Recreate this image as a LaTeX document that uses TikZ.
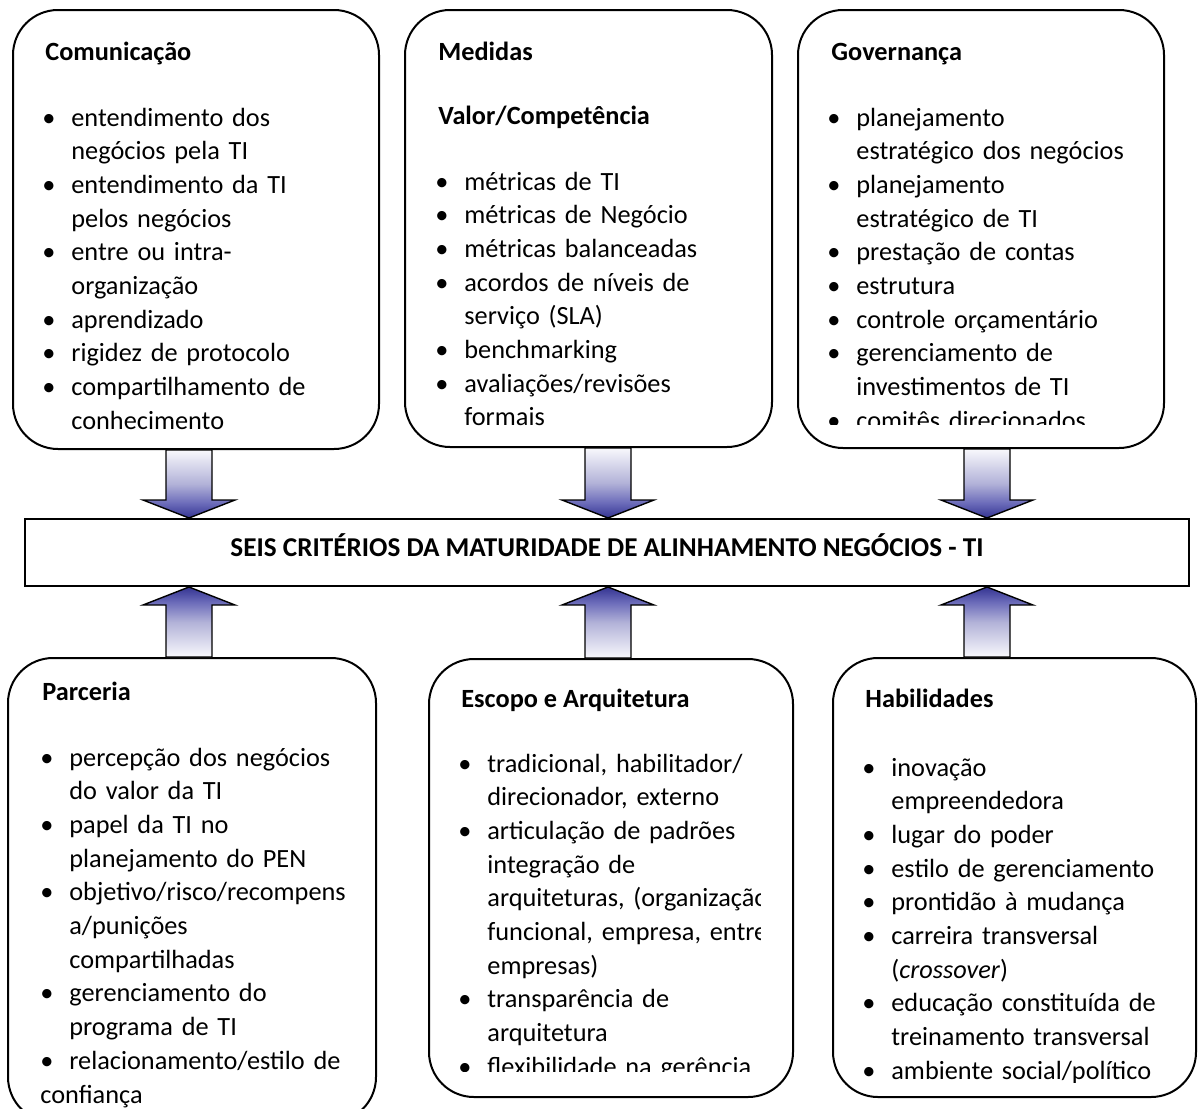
\documentclass[tikz,border=0pt]{standalone}
\usepackage{fontspec}
\setmainfont{Carlito}
\usetikzlibrary{calc,fit}

\definecolor{ardark}{RGB}{52,52,146}
\definecolor{armid}{RGB}{108,108,186}
\definecolor{arsoft}{RGB}{178,178,216}
\definecolor{arpale}{RGB}{248,248,252}
% shading of the fat arrows (path box = 25bp..75bp)
\pgfdeclareverticalshading{shaftdown}{100bp}{color(0bp)=(ardark); color(25bp)=(ardark);
  color(36bp)=(armid); color(50bp)=(arsoft); color(75bp)=(arpale); color(100bp)=(arpale)}
\pgfdeclareverticalshading{shaftup}{100bp}{color(0bp)=(arpale); color(25bp)=(arpale);
  color(50bp)=(arsoft); color(64bp)=(armid); color(75bp)=(ardark); color(100bp)=(ardark)}

\newcommand{\bodyfont}{\fontsize{13.15pt}{16.85pt}\selectfont}
\newcommand{\bul}[1]{{\noindent\hangindent=14.5pt\hangafter=1\makebox[14.5pt][l]{\textbullet}#1\par}}

\tikzset{
  card/.style={draw, line width=1pt, rounded corners=22.5pt, inner sep=0pt},
  barbox/.style={draw, line width=1pt, inner sep=0pt, font=\fontsize{13.6pt}{16.85pt}\selectfont\bfseries},
  head/.style={anchor=base west, inner sep=0pt, font=\bodyfont\bfseries},
  items/.style={anchor=base west, inner sep=0pt, text width=190pt, font=\bodyfont},
  fatarrow/.style={line width=0.7pt, line join=miter}
}

% fat arrow from node #1 down to node #2 along x of coordinate #3
\newcommand{\arrowdown}[3]{%
  \coordinate (s) at (#1.south -| #3);
  \coordinate (t) at (#2.north -| #3);
  \draw[fatarrow, shade, shading=shaftdown] ($(s)+(-23,0)$) -- ($(t)+(-23,-18)$) -- ($(t)+(-46,-18)$)
    -- (t) -- ($(t)+(46,-18)$) -- ($(t)+(23,-18)$) -- ($(s)+(23,0)$) -- cycle;}
% fat arrow from node #1 up to node #2 along x of coordinate #3
\newcommand{\arrowup}[3]{%
  \coordinate (s) at (#1.north -| #3);
  \coordinate (t) at (#2.south -| #3);
  \draw[fatarrow, shade, shading=shaftup] ($(s)+(-23,0)$) -- ($(t)+(-23,18)$) -- ($(t)+(-46,18)$)
    -- (t) -- ($(t)+(46,18)$) -- ($(t)+(23,18)$) -- ($(s)+(23,0)$) -- cycle;}

\begin{document}
\begin{tikzpicture}[x=0.5pt,y=-0.5pt]
  \path[use as bounding box, clip] (0,0) rectangle (1198,1108);

  % boxes
  \node[card, fit={(13,10) (379,449)}] (comm) {};
  \node[card, fit={(405,10) (772,447)}] (meas) {};
  \node[card, fit={(798,10) (1164,448)}] (gov) {};
  \node[barbox, fit={(25,519) (1189,586)}] (bar)
    {\raisebox{-4.3pt}{SEIS CRITÉRIOS DA MATURIDADE DE ALINHAMENTO NEGÓCIOS - TI}};
  \node[card, fit={(8,658) (376,1122)}] (part) {};
  \node[card, fit={(429,659) (793,1097)}] (scope) {};
  \node[card, fit={(833,658) (1196,1097)}] (skill) {};

  % arrows
  \coordinate (xl) at (189,0);
  \coordinate (xm) at (608,0);
  \coordinate (xr) at (987,0);
  \arrowdown{comm}{bar}{xl}
  \arrowdown{meas}{bar}{xm}
  \arrowdown{gov}{bar}{xr}
  \arrowup{part}{bar}{xl}
  \arrowup{scope}{bar}{xm}
  \arrowup{skill}{bar}{xr}

  % texts, top row
  \node[head] (commt) at (45,60) {Comunicação};
  \node[items] (comml) at (42,126) {%
    \bul{entendimento dos\newline negócios pela TI}
    \bul{entendimento da TI\newline pelos negócios}
    \bul{entre ou intra-\newline organização}
    \bul{aprendizado}
    \bul{rigidez de protocolo}
    \bul{compartilhamento de\newline conhecimento}};

  \node[head] (meast) at (438,60) {Medidas};
  \node[head] (measv) at (438,124) {Valor/Competência};
  \node[items] (measl) at (435,190) {%
    \bul{métricas de TI}
    \bul{métricas de Negócio}
    \bul{métricas balanceadas}
    \bul{acordos de níveis de\newline serviço (SLA)}
    \bul{benchmarking}
    \bul{avaliações/revisões\newline formais}};

  \node[head] (govt) at (831,60) {Governança};
  \begin{scope}
    \clip (798,10) rectangle (1164,424);
    \node[items] (govl) at (827,126) {%
      \bul{planejamento\newline estratégico dos negócios}
      \bul{planejamento\newline estratégico de TI}
      \bul{prestação de contas}
      \bul{estrutura}
      \bul{controle orçamentário}
      \bul{gerenciamento de\newline investimentos de TI}
      \bul{comitês direcionados}};
  \end{scope}

  % texts, bottom row
  \node[head] (partt) at (42,700) {Parceria};
  \node[items] (partl) at (40,766) {%
    \bul{percepção dos negócios\newline do valor da TI}
    \bul{papel da TI no\newline planejamento do PEN}
    \bul{objetivo/risco/recompens\newline a/punições\newline compartilhadas}
    \bul{gerenciamento do\newline programa de TI}
    {\noindent\makebox[14.5pt][l]{\textbullet}relacionamento/estilo de\newline confiança\par}};

  \node[head] (scopet) at (461,707) {Escopo e Arquitetura};
  \begin{scope}
    \clip (429,659) rectangle (760,1071);
    \node[items] (scopel) at (458,772) {%
      \bul{tradicional, habilitador/\newline direcionador, externo}
      \bul{articulação de padrões\newline integração de\newline arquiteturas, (organização\newline funcional, empresa, entre-\newline empresas)}
      \bul{transparência de\newline arquitetura}
      \bul{flexibilidade na gerência}};
  \end{scope}

  \node[head] (skillt) at (865,707) {Habilidades};
  \begin{scope}
    \clip (833,658) rectangle (1196,1082);
    \node[items] (skilll) at (862,776) {%
      \bul{inovação\newline empreendedora}
      \bul{lugar do poder}
      \bul{estilo de gerenciamento}
      \bul{prontidão à mudança}
      \bul{carreira transversal\newline (\textit{crossover})}
      \bul{educação constituída de\newline treinamento transversal}
      \bul{ambiente social/político}};
  \end{scope}
\end{tikzpicture}
\end{document}
